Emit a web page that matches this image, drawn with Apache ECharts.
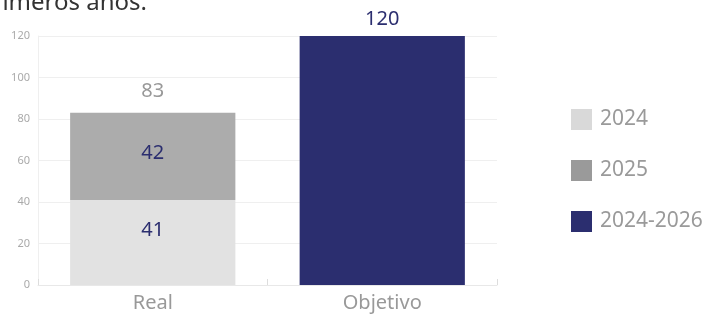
<!DOCTYPE html>
<html>
<head>
<meta charset="utf-8">
<script src="https://cdn.jsdelivr.net/npm/echarts@6/dist/echarts.min.js"></script>
<style>
html,body{margin:0;padding:0;background:#fff;}
#chart{width:713px;height:316px;}
</style>
</head>
<body>
<div id="chart"></div>
<script>
const categories = ['Real', 'Objetivo'];
const seriesNames = ['2024', '2025', '2024-2026'];
const values2024 = [41, '-'];
const values2025 = [42, '-'];
const values2024_2026 = ['-', 120];
const totals = [83, '-'];
const yTicks = [0, 20, 40, 60, 80, 100, 120];

const NAVY = '#2b2e6f';
const FONT = '"Noto Sans", sans-serif';

const chart = echarts.init(document.getElementById('chart'), null, {renderer: 'canvas'});
const option = {
  animation: false,
  textStyle: {fontFamily: FONT},
  grid: {left: 38, right: 216, top: 36, bottom: 31},
  graphic: [{
    type: 'text', x: 147, y: 15,
    style: {text: 'en los primeros años.', font: '24px ' + FONT, fill: '#333', align: 'right', verticalAlign: 'bottom'}
  }],
  legend: {
    orient: 'vertical', left: 566, top: 104, itemGap: 30,
    itemWidth: 21, itemHeight: 21, icon: 'rect',
    textStyle: {fontSize: 21, color: '#9a9a9a', fontFamily: FONT, padding: [0, 0, 0, 3]},
    data: [
      {name: seriesNames[0], itemStyle: {color: '#d9d9d9'}},
      {name: seriesNames[1], itemStyle: {color: '#9a9a9a'}},
      {name: seriesNames[2], itemStyle: {color: NAVY}}
    ]
  },
  xAxis: {
    type: 'category', data: categories,
    axisLine: {lineStyle: {color: '#e8e8e8'}},
    axisTick: {show: true, inside: true, length: 6, lineStyle: {color: '#dddddd'}},
    axisLabel: {fontSize: 20, color: '#999', margin: 8, fontFamily: FONT}
  },
  yAxis: {
    type: 'value', min: yTicks[0], max: yTicks[yTicks.length - 1], interval: 20,
    axisLine: {show: true, lineStyle: {color: '#efefef'}},
    axisTick: {show: false},
    splitLine: {lineStyle: {color: '#efefef'}},
    axisLabel: {fontSize: 11, color: '#aaa', margin: 8, fontFamily: FONT}
  },
  series: [
    {
      name: seriesNames[0], type: 'bar', stack: 's', barWidth: '72%',
      data: values2024, itemStyle: {color: '#e2e2e2'},
      label: {show: true, position: 'inside', offset: [0, -12], fontSize: 20, color: NAVY, fontFamily: FONT}
    },
    {
      name: seriesNames[1], type: 'bar', stack: 's', barWidth: '72%',
      data: values2025, itemStyle: {color: '#acacac'},
      label: {show: true, position: 'inside', offset: [0, -3], fontSize: 20, color: NAVY, fontFamily: FONT}
    },
    {
      name: seriesNames[2], type: 'bar', stack: 's', barWidth: '72%',
      data: values2024_2026, itemStyle: {color: NAVY},
      label: {show: true, position: 'top', distance: 7, fontSize: 20, color: NAVY, fontFamily: FONT}
    },
    {
      name: 'total', type: 'bar', stack: 's', barWidth: '72%',
      data: totals.map(t => t === '-' ? '-' : 0),
      itemStyle: {color: 'transparent'},
      label: {
        show: true, position: 'top', distance: 11, fontSize: 20, color: '#999', fontFamily: FONT,
        formatter: p => String(totals[p.dataIndex])
      }
    }
  ]
};
chart.setOption(option);
</script>
</body>
</html>
